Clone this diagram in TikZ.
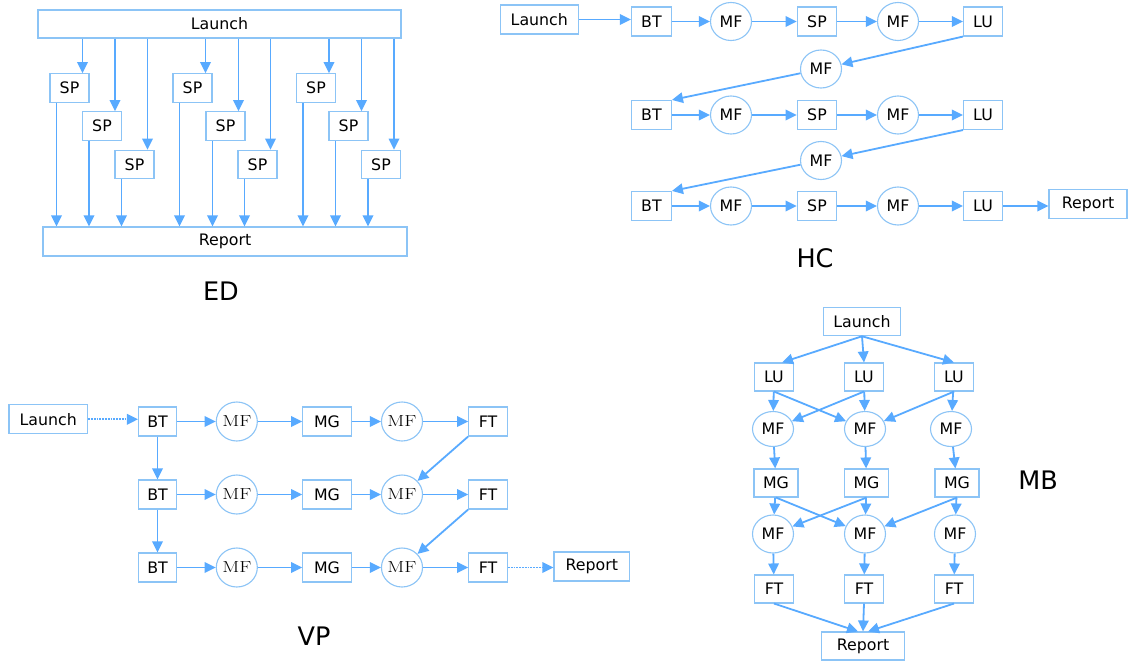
\documentclass[tikz,border=0pt]{standalone}
\usepackage{fontspec}
\usepackage{graphicx}
\usetikzlibrary{arrows.meta,shapes.geometric}
\newfontfamily\dvs{DejaVu Sans}
\definecolor{boxc}{RGB}{140,196,246}
\definecolor{arrc}{RGB}{88,170,255}
\newcommand{\mfs}{{\rmfamily\fontsize{16}{18}\selectfont\scalebox{1.25}[1]{MF}}}
\tikzset{
  bx/.style={draw=boxc, line width=1.1pt, fill=white, inner sep=0pt, minimum height=29pt, font=\dvs\fontsize{15.8}{17}\selectfont},
  ci/.style={ellipse, draw=boxc, line width=1.1pt, fill=white, inner sep=0pt, minimum width=41pt, minimum height=38pt, font=\dvs\fontsize{15.8}{17}\selectfont},
  arr/.style={draw=arrc, line width=1.8pt, -{Triangle[length=11pt,width=10.5pt]}, arrc},
  dotarr/.style={arr, densely dotted},
  ttl/.style={font=\dvs\fontsize{25.5}{28}\selectfont, inner sep=0pt}
}
\begin{document}
\begin{tikzpicture}[x=1pt,y=-1pt]
\useasboundingbox[fill=white] (0,0) rectangle (1129,661);

% ===================== ED =====================
\node[bx, minimum width=363pt, minimum height=28pt] (edL) at (219.5,24) {Launch};
\node[bx, minimum width=364pt] (edR) at (225,241.5) {Report};
\foreach \i/\x/\y in {a1/69.5/88, a2/102/126, a3/134.5/164.5,
                      b1/192.5/88, b2/225.5/126, b3/257.5/164.5,
                      c1/316/88, c2/348.5/126, c3/381/164.5} {
  \node[bx, minimum width=39pt, minimum height=28.5pt] (sp\i) at (\x,\y) {SP};
  \coordinate (ta\i) at ([xshift=13pt]sp\i.north);
  \coordinate (fa\i) at ([xshift=-13pt]sp\i.south);
  \draw[arr] (edL.south -| ta\i) -- (ta\i);
  \draw[arr] (fa\i) -- (fa\i |- edR.north);
}
\node[ttl] (edT) at (221,291) {ED};

% ===================== HC =====================
\node[bx, minimum width=78pt] (hL) at (539.3,19.5) {Launch};
\foreach \r/\y in {1/21.5, 2/115, 3/206} {
  \node[bx, minimum width=40pt] (hbt\r) at (651.4,\y) {BT};
  \node[ci] (hmfa\r) at (731,\y) {MF};
  \node[bx, minimum width=39.5pt] (hsp\r) at (817,\y) {SP};
  \node[ci] (hmfb\r) at (898,\y) {MF};
  \node[bx, minimum width=39pt] (hlu\r) at (983,\y) {LU};
  \draw[arr] (hbt\r) -- (hmfa\r);
  \draw[arr] (hmfa\r) -- (hsp\r);
  \draw[arr] (hsp\r) -- (hmfb\r);
  \draw[arr] (hmfb\r) -- (hlu\r);
}
\node[ci] (hm1) at (821,69) {MF};
\node[ci] (hm2) at (821,160.5) {MF};
\node[bx, minimum width=78pt] (hR) at (1088,204) {Report};
\draw[arr] (hL.east) -- (hL.east -| hbt1.west);
\draw[arr] (hlu1.south west) -- (hm1);
\draw[arr] (hm1) -- (hbt2.north east);
\draw[arr] (hlu2.south west) -- (hm2);
\draw[arr] (hm2) -- (hbt3.north east);
\draw[arr] (hlu3.east) -- (hlu3.east -| hR.west);
\node[ttl] (hcT) at (815,258) {HC};

% ===================== VP =====================
\node[bx, minimum width=78.6pt] (vL) at (48.3,419.3) {Launch};
\foreach \r/\y in {1/421.5, 2/494.5, 3/567.5} {
  \node[bx, minimum width=38pt] (vbt\r) at (157.5,\y) {BT};
  \node[ci, minimum height=39pt] (vmfa\r) at (236.8,\y) {\mfs};
  \node[bx, minimum width=48.5pt] (vmg\r) at (327,\y) {MG};
  \node[ci, minimum height=39pt] (vmfb\r) at (402,\y) {\mfs};
  \node[bx, minimum width=38.7pt] (vft\r) at (488,\y) {FT};
  \draw[arr] (vbt\r) -- (vmfa\r);
  \draw[arr] (vmfa\r) -- (vmg\r);
  \draw[arr] (vmg\r) -- (vmfb\r);
  \draw[arr] (vmfb\r) -- (vft\r);
}
\node[bx, minimum width=75.6pt] (vR) at (591.8,566.5) {Report};
\draw[dotarr] (vL.east) -- (vL.east -| vbt1.west);
\draw[arr] (vbt1) -- (vbt2);
\draw[arr] (vbt2) -- (vbt3);
\draw[arr] (vft1.south west) -- (vmfb2);
\draw[arr] (vft2.south west) -- (vmfb3);
\draw[dotarr] (vft3.east) -- (vft3.east -| vR.west);
\node[ttl] (vpT) at (314,636) {VP};

% ===================== MB =====================
\node[bx, minimum width=77.7pt, minimum height=28.4pt] (mL) at (862,321.5) {Launch};
\foreach \c/\xa/\xb/\xc/\xd/\xe in {1/774/773/776/773/774, 2/864/865/866.5/865/864, 3/954/951/957/955/954} {
  \node[bx, minimum width=39pt, minimum height=28pt] (mlu\c) at (\xa,377) {LU};
  \node[ci, minimum height=35pt] (mmfa\c) at (\xb,429) {MF};
  \node[bx, minimum width=44pt, minimum height=28pt] (mmg\c) at (\xc,483) {MG};
  \node[ci, minimum height=38pt] (mmfb\c) at (\xd,534) {MF};
  \node[bx, minimum width=39pt, minimum height=28pt] (mft\c) at (\xe,589) {FT};
  \draw[arr] (mlu\c) -- (mmfa\c);
  \draw[arr] (mmfa\c) -- (mmg\c);
  \draw[arr] (mmg\c) -- (mmfb\c);
  \draw[arr] (mmfb\c) -- (mft\c);
}
\node[bx, minimum width=83pt, minimum height=28pt] (mR) at (863,646) {Report};
\draw[arr] (mL.south) -- ([xshift=8pt]mlu1.north);
\draw[arr] (mL.south) -- (mlu2.north);
\draw[arr] (mL.south) -- (mlu3.north);
\draw[arr] (mlu1.south) -- (mmfa2);
\draw[arr] (mlu2.south) -- (mmfa1);
\draw[arr] (mlu3.south) -- (mmfa2);
\draw[arr] (mmg1.south) -- (mmfb2);
\draw[arr] (mmg2.south) -- (mmfb1);
\draw[arr] (mmg3.south) -- (mmfb2);
\draw[arr] (mft1.south) -- ([xshift=-5pt]mR.north);
\draw[arr] (mft2.south) -- (mR.north);
\draw[arr] (mft3.south) -- ([xshift=5pt]mR.north);
\node[ttl] (mbT) at (1038,480) {MB};
\end{tikzpicture}
\end{document}
